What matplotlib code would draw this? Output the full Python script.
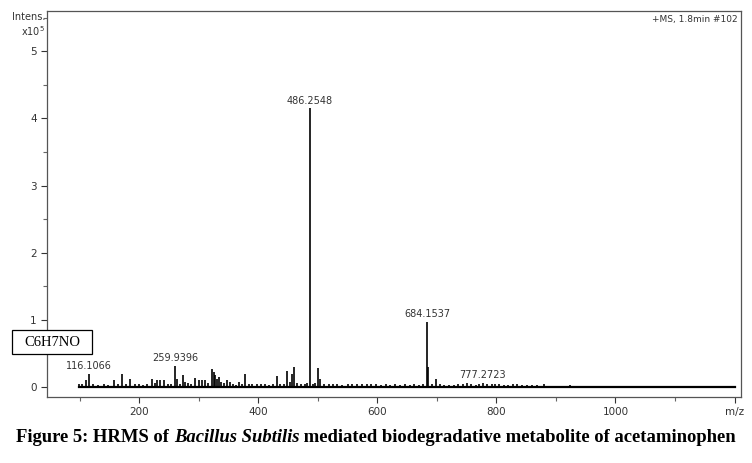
import matplotlib.pyplot as plt
import numpy as np
from matplotlib.patches import Rectangle

# peak list (m/z, intensity in units of 1e5)
mz = [98, 104, 111, 116.1066, 123, 130, 140, 147, 158, 165, 171, 178, 185, 192, 199,
      206, 213, 221, 226, 229, 235, 242, 248, 253, 259.9396, 263, 268, 273, 277, 282,
      287, 294, 300, 305, 310, 315, 322, 325, 328, 331, 334, 338, 342, 347, 352, 357,
      362, 368, 373, 378, 384, 390, 398, 405, 412, 418, 425, 431, 437, 443, 448, 453,
      456, 459.5, 465, 472, 478, 482, 486.2548, 492, 496, 501, 503, 510, 518, 525, 533,
      541, 550, 558, 566, 574, 582, 590, 598, 606, 614, 622, 630, 638, 646, 654, 662,
      670, 677, 684.1537, 685.2, 692, 699, 706, 712, 720, 728, 736, 744, 751, 758, 765,
      771, 777.2723, 784, 792, 797, 805, 812, 820, 828, 835, 843, 851, 860, 868, 880,
      890, 900, 912, 923, 935, 950, 965, 980, 1000, 1020, 1040, 1060, 1080, 1100, 1120,
      1140, 1160, 1180, 1200]
intensity = [0.04, 0.05, 0.11, 0.19, 0.04, 0.03, 0.04, 0.03, 0.10, 0.04, 0.19, 0.05, 0.12, 0.04, 0.05,
             0.03, 0.05, 0.12, 0.06, 0.10, 0.11, 0.10, 0.04, 0.05, 0.31, 0.12, 0.05, 0.18, 0.08, 0.06,
             0.05, 0.13, 0.10, 0.10, 0.10, 0.06, 0.26, 0.22, 0.18, 0.12, 0.15, 0.08, 0.06, 0.10, 0.08, 0.04,
             0.03, 0.08, 0.04, 0.20, 0.05, 0.04, 0.04, 0.05, 0.04, 0.03, 0.05, 0.17, 0.04, 0.05, 0.24, 0.07,
             0.20, 0.29, 0.06, 0.05, 0.05, 0.06, 4.15, 0.05, 0.06, 0.28, 0.12, 0.04, 0.05, 0.04, 0.04,
             0.03, 0.04, 0.04, 0.05, 0.04, 0.04, 0.04, 0.04, 0.03, 0.04, 0.03, 0.04, 0.03, 0.04, 0.03, 0.04,
             0.03, 0.04, 0.97, 0.30, 0.04, 0.12, 0.05, 0.03, 0.03, 0.03, 0.04, 0.04, 0.06, 0.04, 0.03,
             0.05, 0.06, 0.04, 0.05, 0.04, 0.04, 0.03, 0.03, 0.04, 0.04, 0.03, 0.03, 0.03, 0.03, 0.04,
             0.02, 0.02, 0.02, 0.03, 0.02, 0.02, 0.02, 0.02, 0.02, 0.02, 0.02, 0.02, 0.02, 0.02, 0.02,
             0.02, 0.02, 0.02, 0.02]

labelled = [116.1066, 259.9396, 486.2548, 684.1537, 777.2723]

x_ticks = [200, 400, 600, 800, 1000, 1200]
x_ticklabels = ["200", "400", "600", "800", "1000", "m/z"]
y_ticks = [0, 1, 2, 3, 4, 5]

fig = plt.figure(figsize=(7.52, 4.63), dpi=100)
ax = fig.add_axes([0.0625, 0.1425, 0.923, 0.8337])

ax.vlines(mz, 0, intensity, color="black", lw=1.2)
ax.plot([mz[0], mz[-1]], [0, 0], color="black", lw=1.6)

for m in labelled:
    h = intensity[mz.index(m)]
    ax.annotate(f"{m:.4f}", (m, h), xytext=(0, 2), textcoords="offset points",
                ha="center", va="bottom", fontsize=7, color="#333333")

ax.set_xlim(45, 1211)
ax.set_ylim(-0.15, 5.6)
ax.set_xticks(x_ticks)
ax.set_xticklabels(x_ticklabels)
ax.set_xticks(np.arange(100, 1200, 200), minor=True)
ax.set_yticks(y_ticks)
ax.set_yticks(np.arange(0.5, 5.6, 1), minor=True)
ax.tick_params(labelsize=7.5, colors="#333333", length=4, width=0.8)
ax.tick_params(which="minor", length=3, width=0.8, colors="#666666")
for s in ax.spines.values():
    s.set_color("#555555")
    s.set_linewidth(0.9)

fig.text(0.06, 0.975, "Intens.", ha="right", va="top", fontsize=7, color="#333333")
fig.text(0.06, 0.948, "x10$^5$", ha="right", va="top", fontsize=7, color="#333333")
ax.text(0.995, 0.99, "+MS, 1.8min #102", transform=ax.transAxes, ha="right", va="top",
        fontsize=6.5, color="#333333")

# formula box, drawn over the axes edge
fig.patches.append(Rectangle((12 / 752, 109 / 463), 80 / 752, 24 / 463, transform=fig.transFigure,
                             fc="white", ec="black", lw=0.9, zorder=5))
fig.text(52 / 752, 121 / 463, "C6H7NO", family="Liberation Serif", fontsize=10.5,
         ha="center", va="center", zorder=6)

# caption with italic species name
parts = [("Figure 5: HRMS of ", "normal"), ("Bacillus Subtilis", "italic"),
         (" mediated biodegradative metabolite of acetaminophen", "normal")]
fig.canvas.draw()
r = fig.canvas.get_renderer()
texts = []
for s, st in parts:
    t = fig.text(0, 0.056, s, family="Liberation Serif", weight="bold", style=st,
                 fontsize=13.4, va="center", ha="left")
    texts.append(t)
widths = [t.get_window_extent(r).width for t in texts]
x0 = (fig.bbox.width - sum(widths)) / 2
for t, w in zip(texts, widths):
    t.set_x(x0 / fig.bbox.width)
    x0 += w

fig.savefig("out.png", dpi=100)
